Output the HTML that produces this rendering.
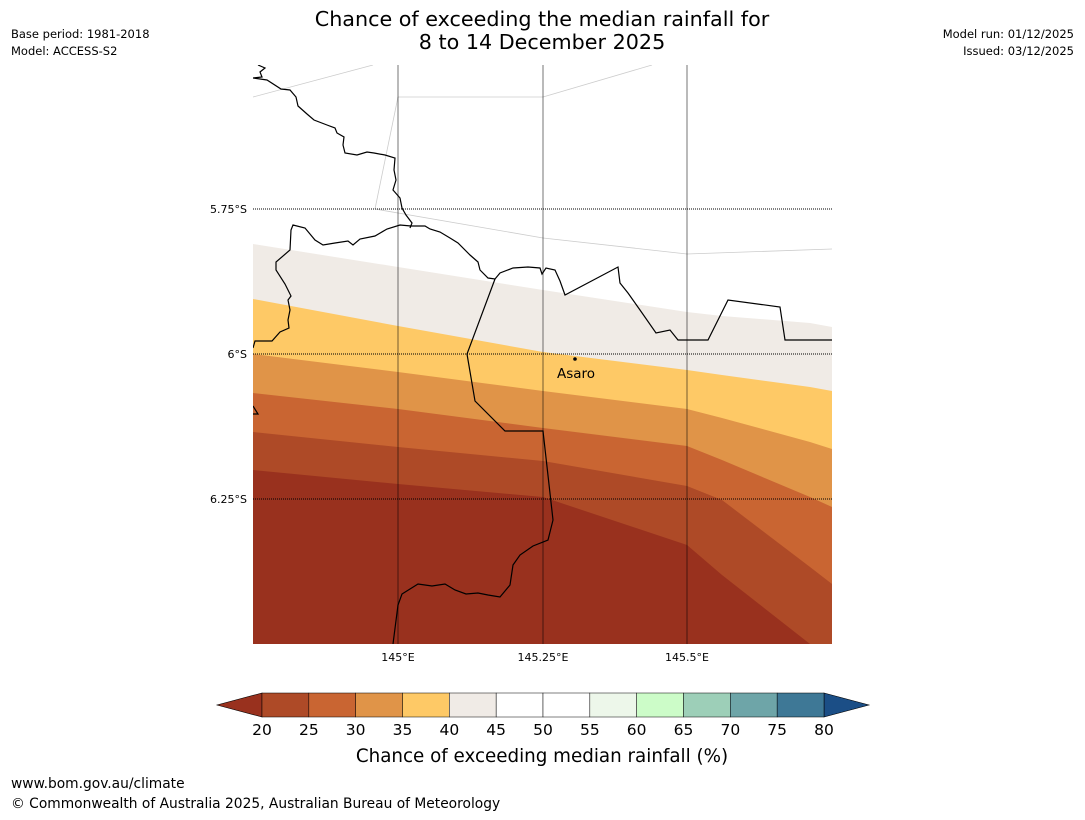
<!DOCTYPE html>
<html><head><meta charset="utf-8"><style>
body{margin:0;background:#fff;width:1085px;height:816px;overflow:hidden;font-family:"DejaVu Sans","Liberation Sans",sans-serif;}
svg text{font-family:"DejaVu Sans","Liberation Sans",sans-serif;}
</style></head><body>
<svg id="c" width="1085" height="816">
<text x="542" y="26" font-size="20.7" text-anchor="middle">Chance of exceeding the median rainfall for</text>
<text x="542" y="49" font-size="20.7" text-anchor="middle">8 to 14 December 2025</text>
<text x="11" y="38" font-size="11.5">Base period: 1981-2018</text>
<text x="11" y="55" font-size="11.5">Model: ACCESS-S2</text>
<text x="1074" y="38" font-size="11.5" text-anchor="end">Model run: 01/12/2025</text>
<text x="1074" y="55" font-size="11.5" text-anchor="end">Issued: 03/12/2025</text>
<g id="map"></g>
<g id="cb"></g>
<text x="542" y="762" font-size="18.3" text-anchor="middle">Chance of exceeding median rainfall (%)</text>
<text x="11" y="788" font-size="13.8">www.bom.gov.au/climate</text>
<text x="11" y="808" font-size="13.8">© Commonwealth of Australia 2025, Australian Bureau of Meteorology</text>
</svg>
<script>
// Contour boundary data: y-pixel of each level boundary at sample longitudes
const sampleX = [253, 398, 543, 687, 722, 810, 832];
const levels = [45, 40, 35, 30, 25, 20];
const boundaryY45 = [244, 267, 290, 312, 316, 323, 327];
const boundaryY40 = [299, 326, 352, 370, 375, 387, 391];
const boundaryY35 = [354, 372, 391, 409, 418, 442, 449];
const boundaryY30 = [393, 409, 428, 446, 460, 497, 507];
const boundaryY25 = [432, 447, 461, 486, 500, 567, 584];
const boundaryY20 = [470, 484, 497, 545, 575, 644, 660];
const cbLevels = [20,25,30,35,40,45,50,55,60,65,70,75,80];
const cbColors = ["#ae4a27","#c96532","#e09448","#fec966","#f0ebe6","#ffffff","#ffffff","#edf7ea","#ccfcc8","#9dcfb8","#6ea5a8","#3e7896"];
const bandColors = ["#f0ebe6","#fec966","#e09448","#c96532","#ae4a27","#99311e"];
const NS="http://www.w3.org/2000/svg";
const map=document.getElementById('map'), cb=document.getElementById('cb');
const L=253,R=832,T=65,B=644;
function mk(tag,attrs,parent){const e=document.createElementNS(NS,tag);for(const k in attrs)e.setAttribute(k,attrs[k]);parent.appendChild(e);return e;}
const defs=mk('defs',{},map);const cp=mk('clipPath',{id:'mc'},defs);mk('rect',{x:L,y:T,width:R-L,height:B-T},cp);
const g=mk('g',{'clip-path':'url(#mc)'},map);
const bounds=[boundaryY45,boundaryY40,boundaryY35,boundaryY30,boundaryY25,boundaryY20];
bounds.forEach((b,i)=>{
  let d='M'+sampleX.map((x,j)=>x+','+b[j]).join(' L')+' L'+R+','+(B+40)+' L'+L+','+(B+40)+' Z';
  const p=mk('path',{d:d,fill:bandColors[i]},g);
  
  
});
[[253,97,373,65],[398,97,543,97],[543,97,652,65],[375,209,398,97],[375,209,543,238],[543,238,687,254],[687,254,832,249]].forEach(l=>{
  mk('line',{x1:l[0],y1:l[1],x2:l[2],y2:l[3],stroke:'#ccc','stroke-width':0.8},g);
});
[398,543,687].forEach(x=>{const e=mk('line',{x1:x,y1:T,x2:x,y2:B,stroke:'#000','stroke-opacity':0.45,'stroke-width':1.2},g);
 });
[209,354,499].forEach(y=>{const e=mk('line',{x1:L,y1:y,x2:R,y2:y,stroke:'#000','stroke-width':1,'stroke-dasharray':'1,1'},g);
 });
const borders=[
 "M258,65 L265,68 L260,72 L262,77 L253,78 L267,80 L281,89 L290,90 L296,97 L298,106 L307,114 L314,120 L327,125 L335,128 L337,133 L344,137 L343,145 L345,153 L357,155 L367,152 L374,153 L385,155 L395,158 L394,170 L396,180 L393,190 L400,198 L402,208 L406,215 L412,223 L410,228",
 "M253,348 L255,341 L272,341 L280,332 L289,328 L288,320 L290,310 L288,300 L291,296 L285,284 L276,270 L276,262 L290,250 L291,230 L293,225 L305,228 L315,240 L323,245 L335,243 L348,241 L353,245 L360,239 L375,236 L387,229 L400,225 L411,226 L425,226 L430,229 L440,232 L450,238 L458,243 L470,255 L478,262 L480,270 L488,278 L495,279 L500,273 L513,268 L528,267 L540,268 L542,274 L546,268 L555,270 L560,281 L565,295 L618,267 L620,283 L628,293 L640,310 L656,333 L670,330 L678,340 L708,340 L728,300 L780,307 L785,340 L832,340",
 "M495,279 L467,354 L475,401 L505,431 L543,431 L553,520 L548,540 L533,546 L520,555 L513,565 L510,585 L500,597 L488,595 L478,593 L466,594 L455,590 L445,584 L432,586 L418,584 L402,594 L398,605 L393,644",
 "M253,406 L258,414 L253,414"
];
borders.forEach((d,i)=>{const e=mk('path',{d:d,fill:'none',stroke:'#000','stroke-width':1.2},g);
 });
mk('circle',{cx:575,cy:359,r:1.8,fill:'#000'},map);
const at=mk('text',{x:576,y:378,'font-size':13.5,'text-anchor':'middle'},map);at.textContent='Asaro';

[['5.75°S',209],['6°S',354],['6.25°S',499]].forEach(t=>{const e=mk('text',{x:247,y:t[1]+4,'font-size':11,'text-anchor':'end'},map);e.textContent=t[0];
 });
[['145°E',398],['145.25°E',543],['145.5°E',687]].forEach(t=>{const e=mk('text',{x:t[1],y:661,'font-size':11,'text-anchor':'middle'},map);e.textContent=t[0];
 });
const cL=262,cR=824,cT=693,cB=717,w=(cR-cL)/(cbLevels.length-1);
const tri1=mk('polygon',{points:`${cL},${cT} ${cL},${cB} 217,705`,fill:'#99311e',stroke:'#000','stroke-width':0.6},cb);

const tri2=mk('polygon',{points:`${cR},${cT} ${cR},${cB} 869,705`,fill:'#1b4e86',stroke:'#000','stroke-width':0.6},cb);

cbColors.forEach((c,i)=>{const r=mk('rect',{x:cL+i*w,y:cT,width:w,height:cB-cT,fill:c,stroke:'#000','stroke-width':0.5},cb);
 });
cbLevels.forEach((v,i)=>{const t=mk('text',{x:cL+i*w,y:735,'font-size':15.5,'text-anchor':'middle'},cb);t.textContent=v;
 });
</script>
</body></html>
